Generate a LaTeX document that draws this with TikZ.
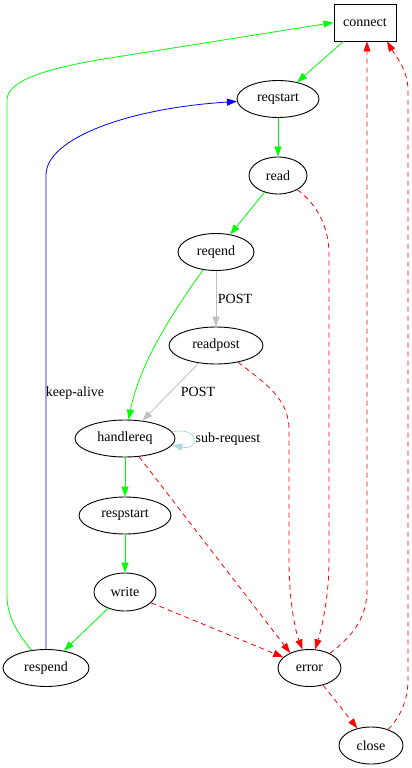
\documentclass[tikz,border=0pt]{standalone}
\usepackage{fontspec}
\setmainfont{Liberation Serif}
\usetikzlibrary{arrows.meta,shapes.geometric}
\definecolor{gvgreen}{RGB}{0,255,0}
\definecolor{gvblue}{RGB}{0,0,255}
\definecolor{gvred}{RGB}{255,0,0}
\definecolor{gvgray}{RGB}{192,192,192}
\definecolor{gvlightblue}{RGB}{173,216,230}
\tikzset{
  st/.style={ellipse,draw,line width=0.9pt,inner sep=0pt,minimum height=37pt,font=\fontsize{14}{16}\selectfont},
  boxst/.style={rectangle,draw,line width=0.9pt,inner sep=0pt,minimum height=37pt,minimum width=62pt,font=\fontsize{14}{16}\selectfont},
  edge/.style={line width=0.8pt,-{Triangle[length=10pt,width=7pt]}},
  ok/.style={edge,gvgreen},
  ka/.style={edge,gvblue},
  post/.style={edge,gvgray},
  err/.style={edge,gvred,dash pattern=on 5pt off 4pt},
  sub/.style={edge,gvlightblue},
  lbl/.style={font=\fontsize{14}{16}\selectfont,inner sep=0pt,text=black}
}
\begin{document}
\begin{tikzpicture}[x=1pt,y=-1pt]
\useasboundingbox (0,0) rectangle (412,768);
\fill[white] (0,0) rectangle (412,768);
% nodes
\node[boxst] (connect) at (365,22.5) {connect};
\node[st,minimum width=82pt] (reqstart) at (278,99) {reqstart};
\node[st,minimum width=58pt] (read) at (278,175.5) {read};
\node[st,minimum width=76pt] (reqend) at (216,252) {reqend};
\node[st,minimum width=94pt] (readpost) at (216,345.5) {readpost};
\node[st,minimum width=100pt] (handlereq) at (125,438.5) {handlereq};
\node[st,minimum width=92pt] (respstart) at (125,515.5) {respstart};
\node[st,minimum width=62pt,minimum height=38pt] (write) at (125,592) {write};
\node[st,minimum width=86pt] (respend) at (46,668) {respend};
\node[st,minimum width=63pt] (error) at (309.5,668) {error};
\node[st,minimum width=64pt] (close) at (371,745.5) {close};
% green edges
\draw[ok] (connect) -- (reqstart);
\draw[ok] (reqstart) -- (read);
\draw[ok] (read) -- (reqend);
\draw[ok] (reqend) .. controls (180,302) and (140,360) .. (handlereq);
\draw[ok] (handlereq) -- (respstart);
\draw[ok] (respstart) -- (write);
\draw[ok] (write) -- (respend);
\draw[ok] (respend) .. controls (15,630) and (7,615) .. (7,595) -- (7,100)
   .. controls (7,80) and (50,67.4) .. (110,58) -- (connect.west);
% keep-alive
\draw[ka] (respend) -- (46,175) .. controls (46,138) and (130,108) .. (reqstart);
\node[lbl] (kalbl) at (75,393) {keep-alive};
% POST edges
\draw[post] (reqend) -- (readpost);
\node[lbl] (post1) at (235,299) {POST};
\draw[post] (readpost) -- (handlereq);
\node[lbl] (post2) at (198,392) {POST};
% sub-request loop
\draw[sub] (handlereq.8) .. controls (200,426) and (200,451) .. (handlereq.-8);
\node[lbl] (sublbl) at (228,439) {sub-request};
% error edges
\draw[err] (read) .. controls (318,205) and (329,228) .. (329,255) -- (329,560)
   .. controls (329,600) and (321,630) .. (error);
\draw[err] (readpost) .. controls (268,385) and (289,400) .. (289,430) -- (289,560)
   .. controls (289,600) and (295,630) .. (error);
\draw[err] (handlereq) -- (error.142);
\draw[err] (write) -- (error);
\draw[err] (error) .. controls (355,635) and (367,615) .. (367,590) -- ([xshift=2pt]connect.south);
\draw[err] (error) -- (close);
\draw[err] (close) .. controls (400,718) and (408,700) .. (408,680) -- (408,90)
   .. controls (408,70) and (395,55) .. ([xshift=22pt]connect.south);
\end{tikzpicture}
\end{document}
